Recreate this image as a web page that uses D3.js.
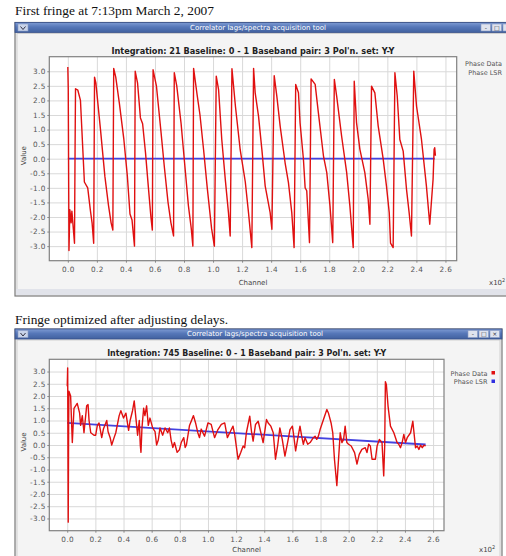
<!DOCTYPE html>
<html>
<head>
<meta charset="utf-8">
<script src="https://cdn.jsdelivr.net/npm/d3@7"></script>
<style>
	body { margin: 0; background: #fff; }
	svg text { font-family: "DejaVu Sans", sans-serif; }
	.caption { font-family: "Liberation Serif", serif; font-size: 13.4px; fill: #111; }
	.bar-title { font-size: 7px; fill: #fff; }
	.chart-title { font-size: 8px; font-weight: bold; fill: #222; }
	.tick text { font-size: 7.3px; fill: #555; }
	.axis-label { font-size: 7px; fill: #444; }
	.legend { font-size: 6.5px; fill: #555; }
	.grid line { stroke: #d9d9d9; stroke-width: 1; }
	.grid path { display: none; }
</style>
</head>
<body>
<svg id="fig" width="506" height="556"></svg>
<script>

// data (channel numbers, phase in radians)
var xTicks = [0, 20, 40, 60, 80, 100, 120, 140, 160, 180, 200, 220, 240, 260]
var yTicks = [-3, -2.5, -2, -1.5, -1, -0.5, 0, 0.5, 1, 1.5, 2, 2.5, 3]
var legendNames = ['Phase Data', 'Phase LSR']

var firstCaption = 'First fringe at 7:13pm March 2, 2007'
var firstTitle = "Integration: 21 Baseline: 0 - 1 Baseband pair: 3 Pol'n. set: Y-Y"
var firstChannel = [0, 0.3, 0.8, 1.4, 2.3, 2.8, 4.6, 5.0, 5.3,
	6.9, 8.7, 11.4, 13.7, 15.6, 16.7, 17.8,
	18.4, 19.3, 22.5, 25.5, 28, 29.8, 31.0,
	31.6, 33.0, 35.5, 38.5, 41, 42.8, 44.2, 45.9,
	46.4, 48, 50, 51.5, 53.5, 55.5, 57.2, 58.2,
	58.7, 61, 64, 66.5, 69, 71, 72.8,
	73.3, 75, 78, 80.5, 83, 85, 86.1,
	86.6, 89, 91, 93.5, 96, 99, 100.9,
	102.2, 103.8, 106, 108.4, 110.6, 111.8,
	113.0, 115.4, 118.7, 122.2, 124.4, 126.7,
	127.9, 129, 131.3, 133.6, 135.9, 139.3, 140.5,
	142.1, 143.9, 146.2, 149.6, 151.9, 154.2, 155.8,
	156.9, 158.8, 159.9, 162.2, 163.4, 164.5, 166.4,
	167.5, 170.3, 172.5, 176, 178.3, 180.5, 182.4,
	183.5, 185.1, 188.5, 192, 194.2, 196.5,
	197.2, 198.8, 201.1, 204.5, 206.8, 208,
	209.1, 211.4, 213.7, 217.1, 219.4, 221.3, 222.2, 224,
	225.2, 226.8, 228.6, 230.9, 233.2, 235, 236.6,
	238.2, 240.1, 243.5, 246.9, 249.2, 251.5, 252.2, 252.6, 253.1]
var firstPhase = [3.15, 2.4, -3.15, -1.75, -2.2, -1.8, -2.9, 0.4, 2.4,
	2.35, 2.0, -0.8, -1.0, -1.8, -2.2, -2.9,
	2.8, 2.6, 1.0, -0.6, -1.6, -2.2, -2.45,
	3.1, 2.8, 1.9, 0.7, -0.6, -1.9, -2.1, -3.0,
	3.0, 2.6, 1.4, 1.2, 0.2, -1.0, -2.0, -2.45,
	3.05, 2.5, 1.0, -0.3, -1.5, -2.2, -2.65,
	2.95, 2.5, 1.2, -0.2, -1.6, -2.4, -3.0,
	3.1, 2.2, 1.5, 0.3, -1.0, -2.4, -3.0,
	2.83, 2.37, 0.66, -0.7, -1.85, -2.65,
	3.09, 1.8, 0.3, -0.8, -1.85, -3.05,
	3.1, 2.26, 1.46, 0.32, -0.94, -1.85, -2.42,
	2.85, 2.15, 1.12, -0.14, -0.82, -1.85, -3.05,
	2.55, 2.26, 1.23, 0, -1.0, -1.1, -2.88,
	2.74, 2.55, 1.58, 0.1, -0.48, -1.62, -2.88,
	2.72, 2.15, 0.78, -0.48, -1.62, -3.05,
	2.66, 1.23, 0.32, -0.48, -1.39, -2.25,
	2.49, 2.26, 1.12, 0, -0.94, -1.85, -2.9, -3.05,
	2.95, 2.15, 0.66, 0.26, -1.05, -1.85, -2.65,
	3.0, 1.8, 0.66, -0.94, -2.25, -0.7, 0.32, 0.38, 0.1]
var firstLsrChannel = [0, 252.6]
var firstLsr = [0, 0]

var secondCaption = 'Fringe optimized after adjusting delays.'
var secondTitle = "Integration: 745 Baseline: 0 - 1 Baseband pair: 3 Pol'n. set: Y-Y"
var secondChannel = [0, 0.3, 0.7, 1.0, 1.2, 2.4, 3.6, 4.8, 7.1, 8.8, 9.5, 10.7, 11.9,
	13.8, 14.8, 15.5, 16.7, 19.0, 20.2, 21.4, 22.6, 24.5, 25.7, 28.1, 29.0, 30.5,
	31.6, 33.3, 34.5, 36.9, 38.1, 40.0, 41.7, 43.6, 44.7, 46.4, 47.6, 48.8, 50.0,
	51.2, 51.9, 52.4, 53.1, 54.3, 55.2, 56.4, 57.6, 58.8, 60.7, 62.4, 63.5, 64.7,
	65.9, 67.8, 69.5, 71.4, 72.6, 73.8, 75.0, 76.2, 78.1, 79.7, 81.0, 82.8, 83.8,
	84.7, 86.9, 89.7, 91.2, 92.8, 94.0, 95.2, 97.6, 100.0, 102.3, 104.7, 107.1,
	109.5, 111.9, 113.8, 116.1, 117.8, 119.0, 121.4, 123.3, 125.0, 126.1, 127.3,
	129.7, 130.9, 132.1, 133.8, 135.7, 137.6, 139.2, 141.6, 142.8, 144.7, 146.4,
	148.0, 149.5, 151.1, 152.8, 154.7, 156.6, 158.3, 160.0, 160.7, 162.3, 163.7,
	165.4, 166.6, 167.8, 169.0, 170.9, 172.6, 174.9, 176.1, 177.3, 178.5, 179.7,
	182.1, 184.5, 185.6, 187.5, 188.7, 189.9, 191.6, 192.8, 194.0, 195.2, 196.4,
	197.5, 198.7, 199.9, 201.8, 204.2, 205.9, 207.5, 209.4, 211.8, 213.0, 214.2,
	215.4, 216.6, 219.0, 220.2, 221.8, 223.7, 224.9, 225.6, 226.1, 226.8, 228.0,
	229.7, 232.1, 234.4, 235.6, 236.8, 238.0, 239.2, 240.4, 241.6, 244.0, 245.6,
	247.5, 248.7, 249.9, 251.1, 252.3, 253.5, 254.7]
var secondPhase = [2.4, 3.15, -3.15, 0.9, 2.2, 2.0, 0.1, 1.5, 1.7, 1.3, 0.8, 1.2, 0.5,
	1.6, 1.65, 1.0, 0.5, 0.4, 0.4, 0.8, 0.9, 0.3, 0.65, 1.0, 0.55, 0.3,
	0.0, 0.3, 0.5, 1.2, 1.4, 1.1, 1.3, 0.6, 1.0, 1.4, 1.8, 1.1, 0.4,
	1.0, 0.0, -0.3, 0.7, 1.5, 1.2, 1.6, 0.8, 1.1, 0.7, 0.55, 0.0, 0.2,
	0.7, 0.4, 0.7, 0.5, 0.7, 0.2, -0.1, 0.1, -0.3, -0.2, 0.1, 0.3, -0.1,
	0.0, 0.8, 1.2, 0.9, 0.5, 0.3, 0.65, 0.36, 0.9, 0.84, 0.3, 0.63,
	0.84, 0.9, 0.3, 0.57, 0.77, 0.43, -0.58, -0.31, -0.04, -0.11, 0.5,
	1.18, 0.57, 0.16, 0.84, 0.97, 0.5, 0.1, 1.04, 0.9, 0.77, 0.5,
	-0.58, -0.04, 0.7, 0.23, -0.45, 0.1, 0.63, 0.77, 0.5, -0.24, 0.23,
	0.77, 0.36, 0.03, 0.3, 0.03, 0.1, 0.3, 0.36, 0.23, 0.36, 0.63,
	1.04, 1.45, 1.31, 0.9, 0.5, -0.58, -1.66, -0.58, 0.5, 0.1, 0.23,
	0.77, 0.1, 0.03, -0.04, -0.31, -0.78, -0.38, -0.18, -0.11, -0.31, 0.03,
	-0.04, -0.58, -0.58, -0.04, 0.23, 0.1, -1.26, -0.04, 2.59, 2.46, 1.58,
	0.77, 0.5, 0.1, 0.03, -0.11, 0.1, 0.43, 0.1, 0.3, 0.5, 0.97,
	-0.11, -0.04, -0.18, -0.01, -0.11, -0.01, -0.04]
var secondLsrChannel = [0, 254.7]
var secondLsr = [0.9, 0.02]

// helpers
function zip(xs, ys) {
	return xs.map((x, i) => [x, ys[i]])
}

function fmtTick(d) {
	return d.toFixed(1)
}

function drawWindow(svg, win) {
	const g = svg.append('g')
	// window body
	g.append('rect')
		.attr('x', win.x).attr('y', win.y)
		.attr('width', win.w).attr('height', win.h)
		.attr('fill', '#efefef')
		.attr('stroke', '#7a7a7a')
		.attr('stroke-width', 1.2)
	g.append('rect')
		.attr('x', win.x + 2).attr('y', win.y + win.barH + 1)
		.attr('width', win.w - 4).attr('height', win.h - win.barH - 3)
		.attr('fill', '#f4f4f4')
		.attr('stroke', '#c8c8c8')
		.attr('stroke-width', 0.8)
	if (win.footer) {
		g.append('rect')
			.attr('x', win.x + 1).attr('y', win.y + win.h - 7)
			.attr('width', win.w - 2).attr('height', 6)
			.attr('fill', '#e1e3ea')
	}
	// title bar
	g.append('rect')
		.attr('x', win.x).attr('y', win.y)
		.attr('width', win.w).attr('height', win.barH)
		.attr('fill', 'url(#barGrad)')
		.attr('stroke', '#39518a')
		.attr('stroke-width', 0.8)
	g.append('rect')
		.attr('x', win.x + 3).attr('y', win.y + 1.5)
		.attr('width', 10).attr('height', win.barH - 3)
		.attr('fill', '#c9d4ea').attr('stroke', '#8a9cc4').attr('stroke-width', 0.6)
	g.append('path')
		.attr('d', `M${win.x + 5.5},${win.y + 4} l2.5,3 l2.5,-3`)
		.attr('fill', 'none').attr('stroke', '#334').attr('stroke-width', 1)
	g.append('text')
		.attr('class', 'bar-title')
		.attr('x', win.titleX)
		.attr('y', win.y + win.barH - 3)
		.attr('text-anchor', 'middle')
		.text('Correlator lags/spectra acquisition tool')
	const glyphs = ['-', '\u25a1', '\u00d7']
	for (var i = 0; i < 3; i++) {
		const bx = win.x + win.w - 34 + i * 11
		g.append('rect')
			.attr('x', bx).attr('y', win.y + 1.5)
			.attr('width', 9.5).attr('height', win.barH - 3)
			.attr('fill', '#dfe3ee').attr('stroke', '#8a9cc4').attr('stroke-width', 0.6)
		// buttons pushed past the page edge keep only their frame
		if (bx + 9.5 > 506) continue
		g.append('text')
			.attr('x', bx + 4.75).attr('y', win.y + win.barH - 3)
			.attr('text-anchor', 'middle')
			.attr('font-size', '6px').attr('fill', '#334')
			.text(glyphs[i])
	}
}

function drawChart(svg, p, title, series, lsr) {
	const g = svg.append('g')
	const width = p.right - p.left
	const height = p.bottom - p.top

	const xScale = d3.scaleLinear().domain([-12.75, 267.75]).range([p.left, p.right])
	const yScale = d3.scaleLinear().domain([-3.5, 3.5]).range([p.bottom, p.top])

	g.append('rect')
		.attr('x', p.left).attr('y', p.top)
		.attr('width', width).attr('height', height)
		.attr('fill', '#fff')

	// grid lines
	g.append('g')
		.attr('class', 'grid')
		.attr('transform', `translate(0, ${p.bottom})`)
		.call(d3.axisBottom(xScale).tickValues(xTicks).tickSize(-height).tickFormat(''))
	g.append('g')
		.attr('class', 'grid')
		.attr('transform', `translate(${p.left}, 0)`)
		.call(d3.axisLeft(yScale).tickValues(yTicks).tickSize(-width).tickFormat(''))

	// axes
	const xAxis = g.append('g')
		.attr('transform', `translate(0, ${p.bottom})`)
		.call(d3.axisBottom(xScale).tickValues(xTicks).tickSize(2).tickPadding(4)
			.tickFormat((d) => fmtTick(d / 100)))
	const yAxis = g.append('g')
		.attr('transform', `translate(${p.left}, 0)`)
		.call(d3.axisLeft(yScale).tickValues(yTicks).tickSize(2).tickPadding(1.5)
			.tickFormat(fmtTick))
	xAxis.select('.domain').remove()
	yAxis.select('.domain').remove()
	xAxis.selectAll('.tick line').attr('stroke', '#888')
	yAxis.selectAll('.tick line').attr('stroke', '#888')
	xAxis.selectAll('.tick text').attr('letter-spacing', '0.4px')
	yAxis.selectAll('.tick text').attr('letter-spacing', '0.4px')

	g.append('rect')
		.attr('x', p.left).attr('y', p.top)
		.attr('width', width).attr('height', height)
		.attr('fill', 'none')
		.attr('stroke', '#808080')
		.attr('stroke-width', 1.2)

	// lines
	const line = d3.line()
		.x((d) => xScale(d[0]))
		.y((d) => yScale(d[1]))

	g.append('path')
		.datum(lsr)
		.attr('d', line)
		.attr('fill', 'none')
		.attr('stroke', '#4343e0')
		.attr('stroke-width', 1.8)

	g.append('path')
		.datum(series)
		.attr('d', line)
		.attr('fill', 'none')
		.attr('stroke', '#e01010')
		.attr('stroke-width', 1.4)
		.attr('stroke-linejoin', 'round')

	// texts
	g.append('text')
		.attr('class', 'chart-title')
		.attr('x', (p.left + p.right) / 2)
		.attr('y', p.titleY)
		.attr('text-anchor', 'middle')
		.attr('textLength', p.titleW)
		.attr('lengthAdjust', 'spacingAndGlyphs')
		.text(title)

	g.append('text')
		.attr('class', 'axis-label')
		.attr('transform', `translate(${p.left - 23}, ${(p.top + p.bottom) / 2 - 3}) rotate(-90)`)
		.attr('text-anchor', 'middle')
		.text('Value')

	g.append('text')
		.attr('class', 'axis-label')
		.attr('x', (p.left + p.right) / 2)
		.attr('y', p.chanY)
		.attr('text-anchor', 'middle')
		.text('Channel')

	const mult = g.append('text')
		.attr('class', 'axis-label')
		.attr('x', p.multX)
		.attr('y', p.chanY)
		.attr('font-size', p.multSize)
	mult.append('tspan').text('x10')
	mult.append('tspan').attr('dy', -3).attr('font-size', '5px').text('2')

	const colors = ['#e01010', '#3030e0']
	for (var i = 0; i < legendNames.length; i++) {
		g.append('text')
			.attr('class', 'legend')
			.attr('x', p.legendX)
			.attr('y', p.legendY + i * 8.5)
			.attr('text-anchor', 'end')
			.text(legendNames[i])
		g.append('rect')
			.attr('x', p.legendX + 4).attr('y', p.legendY + i * 8.5 - 4.5)
			.attr('width', 3.5).attr('height', 3.5)
			.attr('fill', colors[i])
	}
}

function renderFigure() {
	const svg = d3.select('#fig')
	const defs = svg.append('defs')
	const grad = defs.append('linearGradient')
		.attr('id', 'barGrad')
		.attr('x1', 0).attr('y1', 0).attr('x2', 0).attr('y2', 1)
	grad.append('stop').attr('offset', '0%').attr('stop-color', '#7e9bd3')
	grad.append('stop').attr('offset', '45%').attr('stop-color', '#5677b8')
	grad.append('stop').attr('offset', '100%').attr('stop-color', '#41619f')

	svg.append('text').attr('class', 'caption').attr('x', 15).attr('y', 15).text(firstCaption)
	svg.append('text').attr('class', 'caption').attr('x', 15).attr('y', 323.5).text(secondCaption)

	drawWindow(svg, {x: 15, y: 22.5, w: 500, h: 273.5, barH: 10, titleX: 258, footer: true})
	drawWindow(svg, {x: 15, y: 329, w: 487, h: 240, barH: 10, titleX: 255, footer: false})

	drawChart(svg, {left: 49.3, top: 56.7, right: 456.7, bottom: 260.7, titleY: 54,
		titleW: 283, chanY: 285, multX: 489, multSize: '6px', legendX: 502, legendY: 66},
		firstTitle, zip(firstChannel, firstPhase), zip(firstLsrChannel, firstLsr))

	drawChart(svg, {left: 49.3, top: 359.3, right: 444, bottom: 530.7, titleY: 356,
		titleW: 279, chanY: 552, multX: 479, multSize: '7px', legendX: 487.5, legendY: 375.5},
		secondTitle, zip(secondChannel, secondPhase), zip(secondLsrChannel, secondLsr))
}

renderFigure()
</script>
</body>
</html>
